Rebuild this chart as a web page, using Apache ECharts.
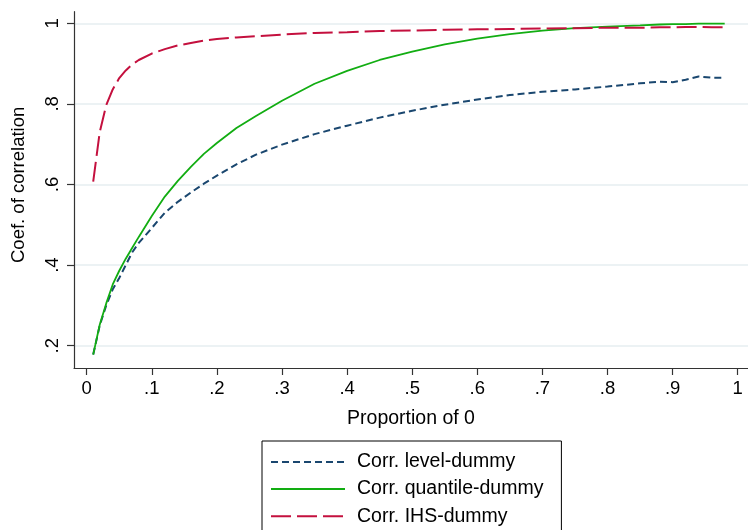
<!DOCTYPE html>
<html>
<head>
<meta charset="utf-8">
<script src="https://cdn.jsdelivr.net/npm/echarts@6/dist/echarts.min.js"></script>
<style>
  html, body { margin: 0; padding: 0; background: #fff; }
  #chart { width: 748px; height: 530px; }
</style>
</head>
<body>
<div id="chart"></div>
<script>
// Proportion of zeros in the simulated variable
const proportion = [0.01, 0.02, 0.03, 0.04, 0.05, 0.06, 0.07, 0.08, 0.10, 0.12, 0.14, 0.16, 0.18, 0.20,
  0.23, 0.26, 0.30, 0.35, 0.40, 0.45, 0.50, 0.55, 0.60, 0.65, 0.70, 0.75, 0.80, 0.85, 0.88, 0.90,
  0.92, 0.94, 0.96, 0.98];

// Correlation of each transformation with the zero dummy
const corrLevel = [0.178, 0.250, 0.300, 0.340, 0.368, 0.400, 0.432, 0.455, 0.492, 0.530, 0.557, 0.580, 0.602, 0.622,
  0.650, 0.674, 0.699, 0.725, 0.746, 0.766, 0.783, 0.798, 0.811, 0.822, 0.830, 0.836, 0.843, 0.851, 0.855, 0.854,
  0.860, 0.868, 0.865, 0.865];
const corrQuantile = [0.178, 0.252, 0.305, 0.352, 0.386, 0.416, 0.443, 0.470, 0.522, 0.570, 0.609, 0.644, 0.676, 0.703,
  0.740, 0.770, 0.808, 0.850, 0.882, 0.909, 0.930, 0.948, 0.962, 0.973, 0.982, 0.988, 0.992, 0.995, 0.997, 0.998,
  0.998, 0.999, 0.999, 0.999];
const corrIHS = [0.607, 0.730, 0.797, 0.836, 0.864, 0.883, 0.898, 0.909, 0.925, 0.936, 0.945, 0.951, 0.957, 0.961,
  0.965, 0.968, 0.972, 0.976, 0.978, 0.981, 0.982, 0.984, 0.985, 0.986, 0.987, 0.988, 0.989, 0.989, 0.990, 0.990,
  0.991, 0.991, 0.990, 0.990];

const seriesNames = ['Corr. level-dummy', 'Corr. quantile-dummy', 'Corr. IHS-dummy'];

// Axis tick positions
const xTicks = [0, 0.1, 0.2, 0.3, 0.4, 0.5, 0.6, 0.7, 0.8, 0.9, 1];
const yTicks = [0.2, 0.4, 0.6, 0.8, 1];

const FONT = '"Liberation Sans", Arial, Helvetica, sans-serif';
const fmt = v => String(v).replace(/^0\./, '.');
const pairs = ys => proportion.map((x, i) => [x, ys[i]]);

const chart = echarts.init(document.getElementById('chart'), null, { renderer: 'canvas' });

chart.setOption({
  backgroundColor: '#ffffff',
  animation: false,
  textStyle: { fontFamily: FONT },
  grid: { left: 74, right: 0, top: 11.7, bottom: 162, containLabel: false },
  xAxis: {
    type: 'value',
    min: -0.0195,
    max: 1.0158,
    name: 'Proportion of 0',
    nameLocation: 'middle',
    nameGap: 41,
    nameTextStyle: { fontFamily: FONT, fontSize: 19.5, color: '#000' },
    axisLine: { show: true, onZero: false, lineStyle: { color: '#333', width: 1.2 } },
    axisTick: { show: true, length: 7, customValues: xTicks, lineStyle: { color: '#333', width: 1.2 } },
    axisLabel: { customValues: xTicks, formatter: fmt, margin: 11, fontFamily: FONT, fontSize: 18.5, color: '#000' },
    splitLine: { show: false }
  },
  yAxis: {
    type: 'value',
    min: 0.1447,
    max: 1.0288,
    name: 'Coef. of correlation',
    nameLocation: 'middle',
    nameGap: 46,
    nameRotate: 90,
    nameTextStyle: { fontFamily: FONT, fontSize: 18.5, color: '#000', padding: [0, 0, 0, 10] },
    axisLine: { show: true, onZero: false, lineStyle: { color: '#333', width: 1.2 } },
    axisTick: { show: true, length: 7, customValues: yTicks, lineStyle: { color: '#333', width: 1.2 } },
    axisLabel: { customValues: yTicks, formatter: fmt, rotate: 90, margin: 12, fontFamily: FONT, fontSize: 18.5, color: '#000' },
    splitLine: { show: true, lineStyle: { color: '#e6eef0', width: 1.5 } }
  },
  legend: {
    orient: 'vertical',
    left: 262,
    top: 441,
    height: 140,
    padding: [11, 18, 12, 8],
    itemWidth: 74,
    itemHeight: 16,
    itemGap: 7.1,
    borderColor: '#000',
    borderWidth: 1,
    backgroundColor: '#fff',
    data: seriesNames,
    itemStyle: { color: 'rgba(0,0,0,0)', borderColor: 'rgba(0,0,0,0)', borderWidth: 0, opacity: 0 },
    textStyle: { fontFamily: FONT, fontSize: 19.5, color: '#000', padding: [0, 0, 0, 7] }
  },
  series: [
    {
      name: seriesNames[0],
      type: 'line',
      data: pairs(corrLevel),
      symbol: 'none',
      lineStyle: { color: '#1a476f', width: 2, type: [7, 4] },
      itemStyle: { color: '#1a476f' }
    },
    {
      name: seriesNames[1],
      type: 'line',
      data: pairs(corrQuantile),
      symbol: 'none',
      lineStyle: { color: '#12ad12', width: 1.8, type: 'solid' },
      itemStyle: { color: '#12ad12' }
    },
    {
      name: seriesNames[2],
      type: 'line',
      data: pairs(corrIHS),
      symbol: 'none',
      lineStyle: { color: '#c4103e', width: 2, type: [20, 6] },
      itemStyle: { color: '#c4103e' }
    }
  ]
});
</script>
</body>
</html>
